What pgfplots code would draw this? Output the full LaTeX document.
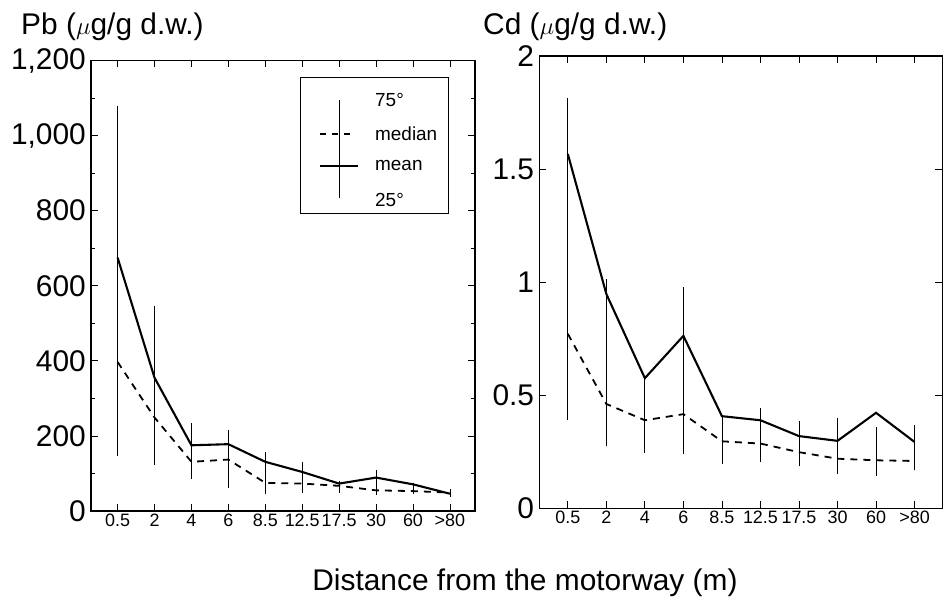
\documentclass[border=0pt]{standalone}
\usepackage{fontspec}
\setmainfont{Liberation Sans}
\usepackage{pgfplots}
\usepackage{pgfplotstable}
\pgfplotsset{compat=1.18}

\pgfplotstableread{
x mean med lo hi
0 675 397 147 1078
1 355 249 123 547
2 175 131 84 235
3 178 137 62 217
4 131 75 46 156
5 104 73 49 131
6 73 67 49 80
7 89 55 42 108
8 71 53 44 75
9 46 49 37 58
}\pbdata

\pgfplotstableread{
x mean med lo hi
0 1.567 0.772 0.39 1.814
1 0.948 0.462 0.275 1.016
2 0.576 0.39 0.245 0.58
3 0.763 0.417 0.243 0.98
4 0.408 0.297 0.195 0.41
5 0.39 0.287 0.206 0.442
6 0.32 0.249 0.186 0.388
7 0.299 0.22 0.154 0.40
8 0.423 0.213 0.143 0.361
9 0.294 0.21 0.169 0.368
}\cddata

\pgfplotsset{
  mystyle/.style={
    scale only axis,
    anchor=south west,
    axis line style={line width=1.2pt},
    tick align=inside,
    major tick length=7bp,
    minor tick length=4bp,
    tick style={black, line width=0.8pt},
    xtick={0,...,9},
    xticklabels={0.5,2,4,6,8.5,12.5,17.5,30,60,{>80}},
    xticklabel style={font=\fontsize{18}{18}\selectfont, inner sep=2.5bp},
    yticklabel style={font=\fontsize{30}{30}\selectfont, inner sep=5bp},
    clip=false,
  },
  errs/.style={draw=none, mark=none, forget plot,
    error bars/.cd, y dir=plus, y explicit, error mark=none,
    error bar style={draw=black, solid, line width=0.8pt}},
  meanline/.style={black, line width=2.1pt, mark=none},
  medline/.style={black, line width=1.8pt, mark=none, dash pattern=on 7bp off 6bp},
}

\begin{document}
\begin{tikzpicture}[x=1bp,y=1bp]
\path[use as bounding box] (0,0) rectangle (943,600);

\begin{axis}[mystyle,
  at={(91bp,89bp)}, width=384bp, height=450.5bp,
  xmin=-0.72, xmax=9.68, ymin=0, ymax=1200,
  ytick={0,200,400,600,800,1000,1200},
  yticklabels={0,200,400,600,800,{1,000},{1,200}},
  minor ytick={100,300,500,700,900,1100},
]
\addplot[errs] table[x=x, y=lo, y error plus expr=\thisrow{hi}-\thisrow{lo}] {\pbdata};
\addplot[medline] table[x=x, y=med] {\pbdata};
\addplot[meanline] table[x=x, y=mean] {\pbdata};
\end{axis}

\begin{axis}[mystyle,
  at={(539.3bp,91.5bp)}, width=403bp, height=452.5bp,
  xmin=-0.74, xmax=9.72, ymin=0, ymax=2,
  ytick={0,0.5,1,1.5,2},
  yticklabels={0,0.5,1,1.5,2},
]
\addplot[errs] table[x=x, y=lo, y error plus expr=\thisrow{hi}-\thisrow{lo}] {\cddata};
\addplot[medline] table[x=x, y=med] {\cddata};
\addplot[meanline] table[x=x, y=mean] {\cddata};
\end{axis}

% titles
\node[anchor=west, inner sep=0, font=\fontsize{30}{30}\selectfont] at (21,573) {Pb ($\mu$g/g d.w.)};
\node[anchor=west, inner sep=0, font=\fontsize{30}{30}\selectfont] at (483,573) {Cd ($\mu$g/g d.w.)};
% x label
\node[anchor=center, inner sep=0, font=\fontsize{30}{30}\selectfont] at (525,17) {Distance from the motorway (m)};

% legend
\draw[line width=0.9pt] (300,522.3) rectangle (448,387);
\draw[line width=0.8pt] (339,500) -- (339,402);
\draw[line width=1.7pt, dash pattern=on 6bp off 6bp] (320,466) -- (356,466);
\draw[line width=2.1pt] (320,434) -- (358,434);
\begin{scope}[every node/.style={anchor=west, inner sep=0, font=\fontsize{19}{19}\selectfont}]
\node at (375,500) {75°};
\node at (375,466) {median};
\node at (375,434) {mean};
\node at (375,400) {25°};
\end{scope}
\end{tikzpicture}
\end{document}
